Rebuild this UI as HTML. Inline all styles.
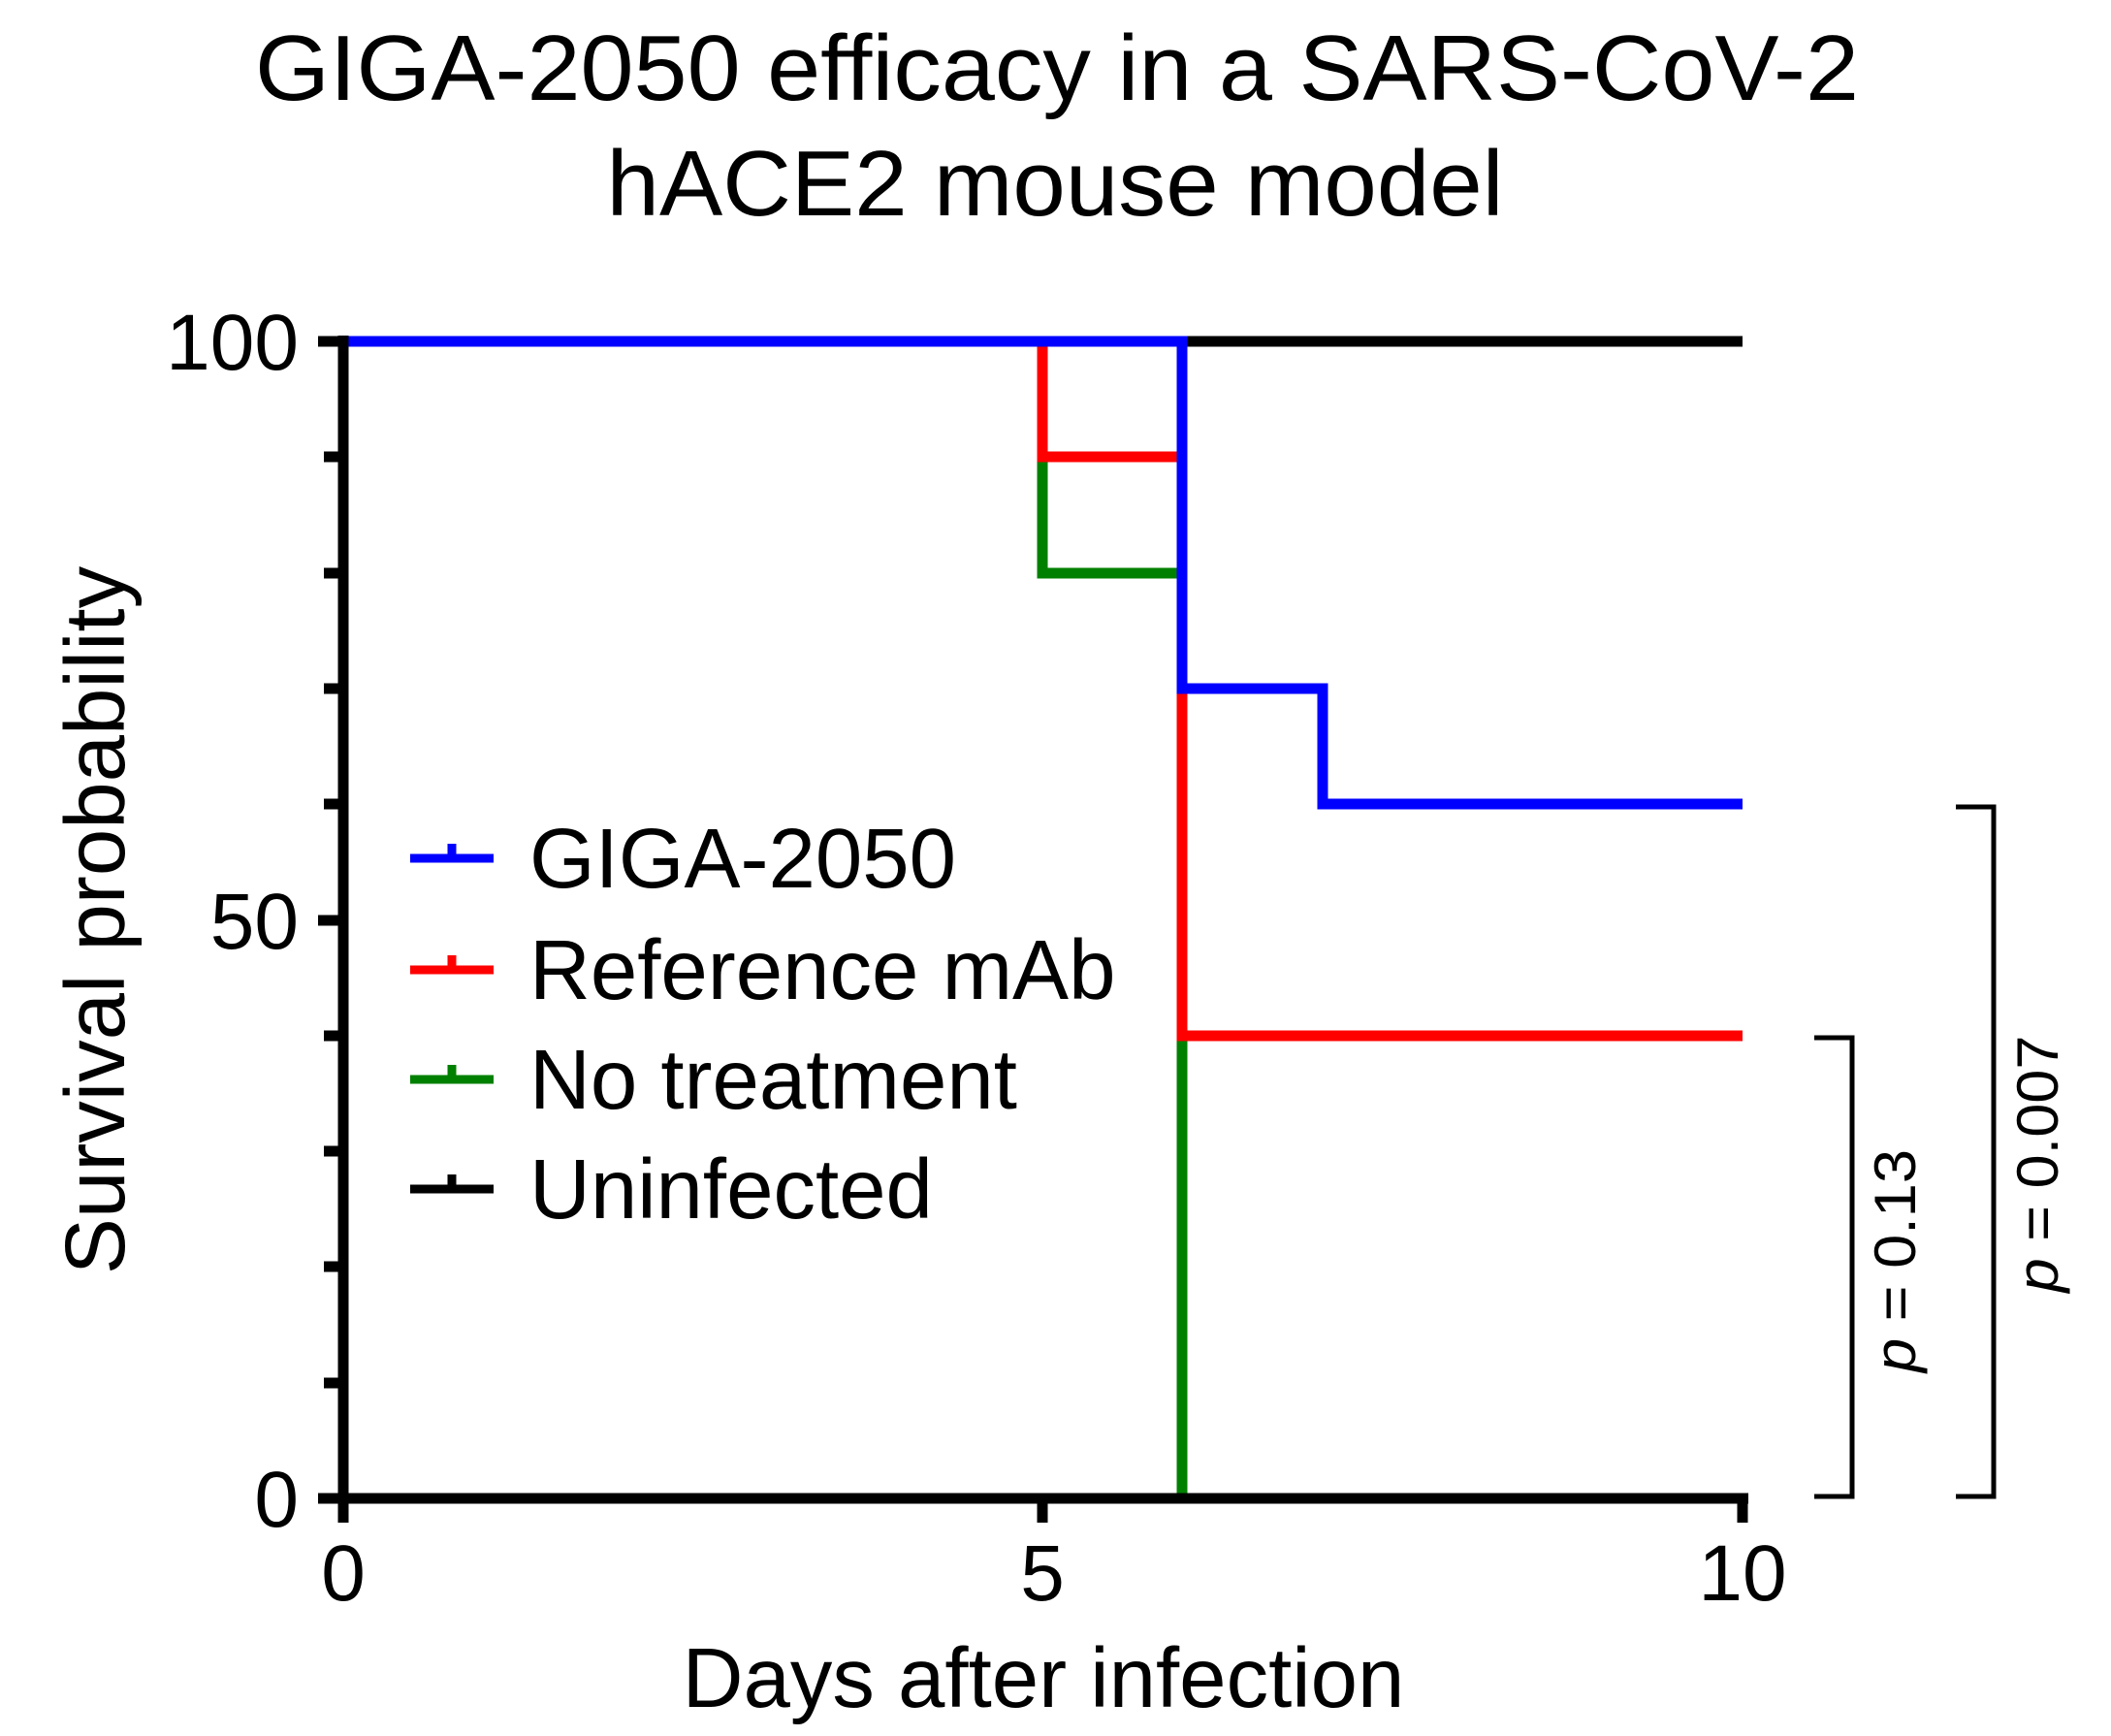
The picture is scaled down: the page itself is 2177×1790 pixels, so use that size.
<!DOCTYPE html>
<html><head><meta charset="utf-8"><style>html,body{margin:0;padding:0;background:#fff}svg{display:block}</style></head>
<body>
<svg width="2177" height="1790" viewBox="0 0 2177 1790" xmlns="http://www.w3.org/2000/svg" font-family="Liberation Sans, Arial, sans-serif">
<rect width="2177" height="1790" fill="#fff"/>
<text x="1090" y="103" font-size="96" text-anchor="middle" textLength="1654" lengthAdjust="spacingAndGlyphs">GIGA-2050 efficacy in a SARS-CoV-2</text>
<text x="1088" y="222" font-size="96" text-anchor="middle" textLength="925" lengthAdjust="spacingAndGlyphs">hACE2 mouse model</text>

<g stroke-width="11" fill="none" stroke-linecap="butt">
<polyline points="354,352 1797,352" stroke="#000"/>
<polyline points="354,352 1075,352 1075,591 1219,591 1219,1545" stroke="#008000"/>
<polyline points="354,352 1075,352 1075,471 1219,471 1219,1068 1797,1068" stroke="#ff0000"/>
<polyline points="354,352 1219,352 1219,710 1364,710 1364,829 1797,829" stroke="#0000ff"/>
</g>

<g stroke="#000" stroke-width="11" fill="none">
<line x1="354" y1="346" x2="354" y2="1551"/>
<line x1="348" y1="1545" x2="1803" y2="1545"/>
<line x1="328" y1="352" x2="354" y2="352"/>
<line x1="334" y1="471" x2="354" y2="471"/>
<line x1="334" y1="591" x2="354" y2="591"/>
<line x1="334" y1="710" x2="354" y2="710"/>
<line x1="334" y1="829" x2="354" y2="829"/>
<line x1="328" y1="949" x2="354" y2="949"/>
<line x1="334" y1="1068" x2="354" y2="1068"/>
<line x1="334" y1="1187" x2="354" y2="1187"/>
<line x1="334" y1="1306" x2="354" y2="1306"/>
<line x1="334" y1="1426" x2="354" y2="1426"/>
<line x1="328" y1="1545" x2="354" y2="1545"/>
<line x1="354" y1="1545" x2="354" y2="1570"/>
<line x1="1075" y1="1545" x2="1075" y2="1570"/>
<line x1="1797" y1="1545" x2="1797" y2="1570"/>
</g>

<g font-size="82" text-anchor="end">
<text x="308" y="381">100</text>
<text x="308" y="978">50</text>
<text x="308" y="1574">0</text>
</g>
<g font-size="82" text-anchor="middle">
<text x="354" y="1650">0</text>
<text x="1075" y="1650">5</text>
<text x="1797" y="1650">10</text>
</g>
<text x="1076" y="1760" font-size="87" text-anchor="middle">Days after infection</text>
<text transform="translate(128,949) rotate(-90)" font-size="87" text-anchor="middle">Survival probability</text>

<g stroke-width="9">
<line x1="423" y1="885" x2="509" y2="885" stroke="#0000ff"/><line x1="466" y1="885" x2="466" y2="870" stroke="#0000ff"/>
<line x1="423" y1="1000" x2="509" y2="1000" stroke="#ff0000"/><line x1="466" y1="1000" x2="466" y2="985" stroke="#ff0000"/>
<line x1="423" y1="1113" x2="509" y2="1113" stroke="#008000"/><line x1="466" y1="1113" x2="466" y2="1098" stroke="#008000"/>
<line x1="423" y1="1226" x2="509" y2="1226" stroke="#000"/><line x1="466" y1="1226" x2="466" y2="1211" stroke="#000"/>
</g>
<g font-size="87">
<text x="546" y="915">GIGA-2050</text>
<text x="546" y="1030">Reference mAb</text>
<text x="546" y="1143">No treatment</text>
<text x="546" y="1256">Uninfected</text>
</g>

<g stroke="#000" stroke-width="5" fill="none">
<polyline points="1871,1070 1910,1070 1910,1543 1871,1543"/>
<polyline points="2017,832 2056,832 2056,1543 2017,1543"/>
</g>
<g font-size="60" text-anchor="middle">
<text transform="translate(1975,1300) rotate(-90)" textLength="230" lengthAdjust="spacingAndGlyphs"><tspan font-style="italic">p</tspan> = 0.13</text>
<text transform="translate(2122,1200) rotate(-90)" textLength="265" lengthAdjust="spacingAndGlyphs"><tspan font-style="italic">p</tspan> = 0.007</text>
</g>
</svg>
</body></html>
